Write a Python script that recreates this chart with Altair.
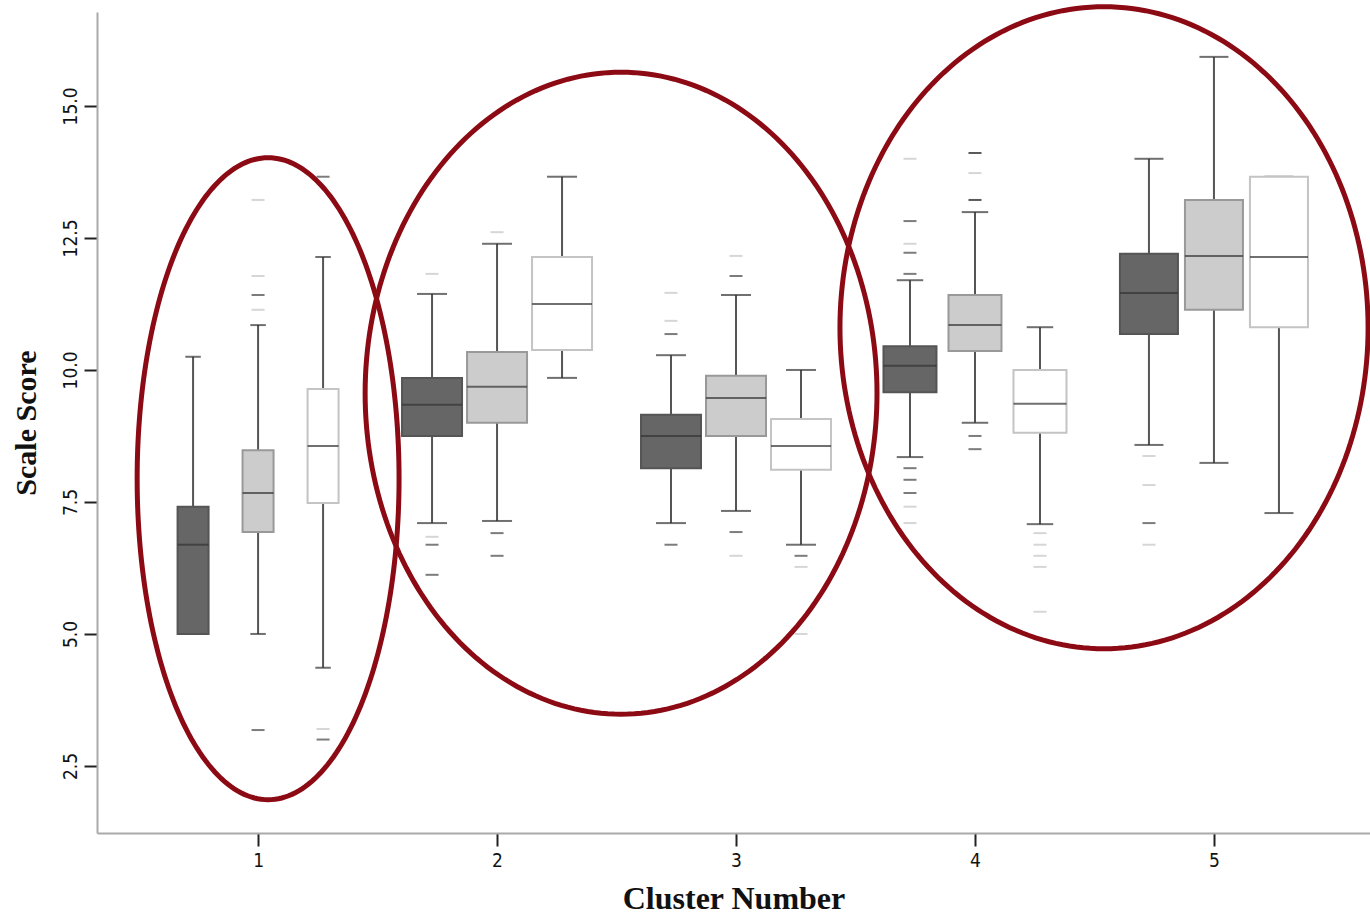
import numpy as np
import pandas as pd
import altair as alt

# ---- data ----
clusters = [1, 2, 3, 4, 5]
series = ["A", "B", "C"]  # dark, light, white boxes
group_weight = [31, 60, 60, 53, 58]  # relative group size (box width)

# per box: cluster, series, low whisker, q1, median, q3, high whisker
box_cluster = [1, 1, 1, 2, 2, 2, 3, 3, 3, 4, 4, 4, 5, 5, 5]
box_series = ["A", "B", "C"] * 5
box_lo  = [5.00, 5.00, 4.36, 7.10, 7.14, 9.85, 7.10, 7.33, 6.69, 8.35, 9.00, 7.08, 8.58, 8.24, 7.29]
box_q1  = [5.00, 6.93, 7.48, 8.75, 9.00, 10.38, 8.14, 8.75, 8.11, 9.58, 10.36, 8.81, 10.68, 11.14, 10.81]
box_med = [6.69, 7.67, 8.56, 9.34, 9.68, 11.25, 8.75, 9.47, 8.56, 10.08, 10.85, 9.36, 11.46, 12.16, 12.14]
box_q3  = [7.41, 8.48, 9.64, 9.85, 10.34, 12.14, 9.15, 9.89, 9.07, 10.45, 11.42, 10.00, 12.20, 13.22, 13.66]
box_hi  = [10.25, 10.85, 12.14, 11.44, 12.39, 13.66, 10.28, 11.42, 10.00, 11.70, 12.99, 10.81, 14.00, 15.93, 13.66]

# outliers: cluster, series, value, cases (1 = single, 2 = several)
out_cluster = [1, 1, 1, 1, 1, 1, 1, 1,
               2, 2, 2, 2, 2, 2, 2,
               3, 3, 3, 3, 3, 3, 3, 3, 3, 3, 3,
               4, 4, 4, 4, 4, 4, 4, 4, 4, 4, 4, 4, 4, 4, 4, 4, 4, 4, 4, 4,
               5, 5, 5, 5]
out_series = ["B", "B", "B", "B", "B", "C", "C", "C",
              "A", "A", "A", "A", "B", "B", "B",
              "A", "A", "A", "A", "B", "B", "B", "B", "C", "C", "C",
              "A", "A", "A", "A", "A", "A", "A", "A", "A", "A", "B", "B", "B", "B", "B",
              "C", "C", "C", "C", "C",
              "A", "A", "A", "A"]
out_value = [13.22, 11.78, 11.42, 11.14, 3.18, 13.66, 3.20, 3.00,
             11.82, 6.84, 6.69, 6.12, 12.61, 6.91, 6.48,
             11.46, 10.93, 10.68, 6.69, 12.16, 11.78, 6.93, 6.48, 6.48, 6.27, 5.00,
             14.00, 12.82, 12.39, 12.22, 11.82, 8.14, 7.92, 7.67, 7.41, 7.10, 14.11, 13.73, 13.22, 8.75, 8.50,
             6.91, 6.69, 6.48, 6.27, 5.42,
             8.37, 7.82, 7.10, 6.69]
out_cases = [1, 1, 2, 1, 2, 2, 1, 2,
             1, 1, 2, 2, 1, 2, 2,
             1, 1, 2, 2, 1, 2, 2, 1, 2, 1, 1,
             1, 2, 1, 2, 2, 2, 2, 2, 1, 1, 3, 1, 3, 2, 2,
             1, 1, 1, 1, 1,
             1, 1, 2, 1]

# highlight ellipses (centre and radii in data units)
ell_id = ["E1", "E2", "E3"]
ell_cx = [1.042, 2.519, 4.540]
ell_cy = [7.94, 9.56, 10.80]
ell_rx = [0.548, 1.071, 1.105]
ell_ry = [6.08, 6.08, 6.08]

# ---- tables ----
wmap = dict(zip(clusters, group_weight))
boxes = pd.DataFrame({
    "cluster": box_cluster, "series": box_series,
    "lo": box_lo, "q1": box_q1, "med": box_med, "q3": box_q3, "hi": box_hi,
})
boxes["w"] = boxes["cluster"].map(wmap)

outl = pd.DataFrame({"cluster": out_cluster, "series": out_series,
                     "value": out_value, "cases": out_cases})

t = np.linspace(0, 2 * np.pi, 241)
ell_rows = []
for i, e in enumerate(ell_id):
    for k, tt in enumerate(t):
        ell_rows.append({"id": e, "k": k,
                         "x": ell_cx[i] + ell_rx[i] * np.cos(tt),
                         "y": ell_cy[i] + ell_ry[i] * np.sin(tt)})
ells = pd.DataFrame(ell_rows)

# ---- scales ----
xscale = alt.Scale(domain=[0.326, 5.653], nice=False, zero=False, padding=0)
yscale = alt.Scale(domain=[1.23, 16.78], nice=False, zero=False, padding=0)
wscale = alt.Scale(type="linear", domain=[0, 100], range=[0, 100])
offset_expr = "datum.cluster + (datum.series == 'A' ? -0.272 : datum.series == 'C' ? 0.272 : 0)"

label_font = "Liberation Sans Narrow, Arial Narrow, DejaVu Sans Condensed, Roboto Condensed, sans-serif"

xaxis = alt.Axis(values=clusters, format="d", title="Cluster Number",
                 tickSize=13, tickWidth=2, tickColor="#222", labelPadding=5,
                 labelFontSize=19, labelFont=label_font,
                 labelColor="#111", titleFont="Liberation Serif", titleFontSize=32,
                 titleFontWeight="bold", titleColor="#111", titlePadding=13,
                 domainColor="#aaaaaa", domainWidth=2, grid=False)
yaxis = alt.Axis(values=[2.5, 5.0, 7.5, 10.0, 12.5, 15.0], format=".1f", title="Scale Score",
                 tickSize=13, tickWidth=2, tickColor="#222", labelPadding=4, labelAngle=270,
                 labelAlign="center", labelBaseline="bottom",
                 labelFontSize=19, labelFont=label_font,
                 labelColor="#111", titleFont="Liberation Serif", titleFontSize=30,
                 titleFontWeight="bold", titleColor="#111", titlePadding=20, titleAngle=270,
                 domainColor="#aaaaaa", domainWidth=2, grid=False)

base = alt.Chart(boxes).transform_calculate(xpos=offset_expr, cap="datum.w * 0.5")

whisk = base.mark_rule(color="#555555", strokeWidth=2).encode(
    x=alt.X("xpos:Q", scale=xscale, axis=xaxis),
    y=alt.Y("lo:Q", scale=yscale, axis=yaxis),
    y2="hi:Q",
)
cap_lo = base.mark_tick(orient="horizontal", color="#333333", thickness=2).encode(
    x=alt.X("xpos:Q", scale=xscale), y=alt.Y("lo:Q", scale=yscale),
    size=alt.Size("cap:Q", scale=wscale, legend=None),
)
cap_hi = base.mark_tick(orient="horizontal", color="#333333", thickness=2).encode(
    x=alt.X("xpos:Q", scale=xscale), y=alt.Y("hi:Q", scale=yscale),
    size=alt.Size("cap:Q", scale=wscale, legend=None),
)
box = base.mark_bar(strokeWidth=2).encode(
    x=alt.X("xpos:Q", scale=xscale), y=alt.Y("q1:Q", scale=yscale), y2="q3:Q",
    size=alt.Size("w:Q", scale=wscale, legend=None),
    fill=alt.Fill("series:N", scale=alt.Scale(domain=series, range=["#666666", "#cccccc", "#ffffff"]), legend=None),
    stroke=alt.Stroke("series:N", scale=alt.Scale(domain=series, range=["#555555", "#999999", "#c4c4c4"]), legend=None),
)
med = base.mark_tick(orient="horizontal", color="#333333", thickness=2).encode(
    x=alt.X("xpos:Q", scale=xscale), y=alt.Y("med:Q", scale=yscale),
    size=alt.Size("w:Q", scale=wscale, legend=None),
)
outs = alt.Chart(outl).transform_calculate(xpos=offset_expr).mark_tick(
    orient="horizontal", thickness=2, size=13).encode(
    x=alt.X("xpos:Q", scale=xscale), y=alt.Y("value:Q", scale=yscale),
    color=alt.Color("cases:O", scale=alt.Scale(domain=[1, 2, 3], range=["#c4c4c4", "#444444", "#111111"]), legend=None),
)
ellipse = alt.Chart(ells).mark_line(color="#8b0a14", strokeWidth=5, clip=False).encode(
    x=alt.X("x:Q", scale=xscale), y=alt.Y("y:Q", scale=yscale),
    detail="id:N", order="k:Q",
)

chart = alt.layer(whisk, cap_lo, cap_hi, box, med, outs, ellipse).resolve_scale(
    color="independent", size="shared"
).properties(
    width=1273, height=821,
    padding={"left": 97, "top": 12, "right": 0, "bottom": 82},
    autosize=alt.AutoSizeParams(type="none"),
    background="white",
).configure_view(stroke=None).configure_axisX(domain=True)

chart.save("out.html", embed_options={"renderer": "svg", "actions": False})
